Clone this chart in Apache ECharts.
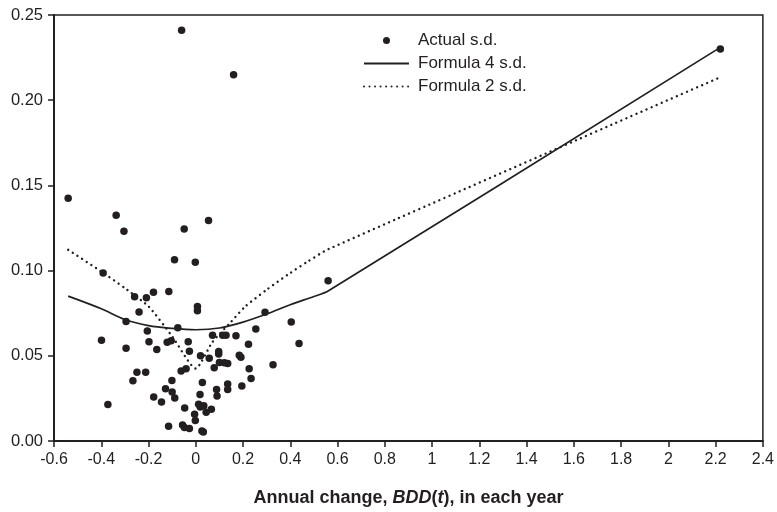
<!DOCTYPE html>
<html>
<head>
<meta charset="utf-8">
<script src="https://cdn.jsdelivr.net/npm/echarts@6/dist/echarts.min.js"></script>
<style>
  html, body { margin: 0; padding: 0; background: #fff; }
  #chart { width: 777px; height: 512px; }
</style>
</head>
<body>
<div id="chart"></div>
<script>
// Observed standard deviation of BDD(t) for each year, plotted against the annual change
const actualSD = [
  [-0.540, 0.1424], [-0.337, 0.1325], [-0.304, 0.1231], [-0.049, 0.1244], [0.054, 0.1294],
  [-0.090, 0.1063], [-0.002, 0.1049], [-0.392, 0.0986], [-0.060, 0.2410], [0.160, 0.2150],
  [2.220, 0.2300], [0.560, 0.0940], [-0.259, 0.0847], [-0.209, 0.0841], [-0.179, 0.0873],
  [-0.114, 0.0877], [-0.240, 0.0757], [0.007, 0.0790], [0.007, 0.0765], [-0.295, 0.0701],
  [-0.076, 0.0665], [-0.205, 0.0646], [-0.399, 0.0591], [-0.198, 0.0583], [-0.121, 0.0579],
  [-0.104, 0.0589], [-0.032, 0.0583], [0.071, 0.0621], [0.114, 0.0621], [0.128, 0.0621],
  [0.170, 0.0617], [0.293, 0.0755], [0.404, 0.0698], [0.437, 0.0572], [0.254, 0.0658],
  [0.223, 0.0568], [-0.295, 0.0545], [-0.165, 0.0537], [-0.027, 0.0526], [0.020, 0.0500],
  [0.057, 0.0485], [0.097, 0.0525], [0.097, 0.0510], [0.184, 0.0503], [0.191, 0.0491],
  [-0.249, 0.0403], [-0.212, 0.0403], [-0.266, 0.0354], [-0.062, 0.0411], [-0.041, 0.0424],
  [0.078, 0.0430], [0.100, 0.0460], [0.121, 0.0459], [0.135, 0.0455], [0.327, 0.0447],
  [0.226, 0.0424], [0.234, 0.0367], [0.195, 0.0323], [-0.101, 0.0355], [0.028, 0.0344],
  [0.135, 0.0334], [-0.128, 0.0306], [-0.100, 0.0288], [-0.089, 0.0252], [-0.178, 0.0258],
  [-0.145, 0.0229], [0.018, 0.0273], [0.088, 0.0302], [0.135, 0.0302], [0.090, 0.0264],
  [-0.372, 0.0214], [-0.047, 0.0194], [0.012, 0.0216], [0.019, 0.0200], [0.034, 0.0207],
  [0.066, 0.0186], [0.044, 0.0169], [-0.005, 0.0157], [-0.002, 0.0120], [-0.115, 0.0086],
  [-0.056, 0.0094], [-0.048, 0.0079], [-0.027, 0.0073], [0.026, 0.0059], [0.032, 0.0053]
];

// Standard deviation given by Formula 4
const formula4SD = [
  [-0.54, 0.0850], [-0.40, 0.0776], [-0.30, 0.0713], [-0.20, 0.0677], [-0.10, 0.0661],
  [0.00, 0.0653], [0.10, 0.0663], [0.20, 0.0698], [0.30, 0.0745], [0.40, 0.0800],
  [0.50, 0.0848], [0.56, 0.0880], [2.22, 0.2310]
];

// Standard deviation given by Formula 2
const formula2SD = [
  [-0.54, 0.1122], [-0.40, 0.0995], [-0.30, 0.0897], [-0.20, 0.0790], [-0.10, 0.0615],
  [0.00, 0.0425], [0.07, 0.0580], [0.14, 0.0685], [0.21, 0.0790], [0.30, 0.0888],
  [0.39, 0.0977], [0.47, 0.1050], [0.56, 0.1125], [2.22, 0.2135]
];

const seriesNames = ['Actual s.d.', 'Formula 4 s.d.', 'Formula 2 s.d.'];

const ink = '#231f20';
const font = 'Liberation Sans, Arial, Helvetica, sans-serif';

// line entries in the legend show only their stroke, no marker
const lineOnlyLegend = { itemStyle: { color: 'transparent', opacity: 0, borderWidth: 0 } };

const chart = echarts.init(document.getElementById('chart'), null, { renderer: 'canvas' });

chart.setOption({
  backgroundColor: '#ffffff',
  animation: false,
  grid: {
    left: 54, right: 12, top: 15, bottom: 61,
    show: true, borderColor: ink, borderWidth: 1.5, backgroundColor: 'transparent'
  },
  legend: {
    orient: 'vertical',
    left: 363, top: 32, padding: 0,
    itemWidth: 45, itemHeight: 7, itemGap: 6,
    textStyle: { fontFamily: font, fontSize: 17, color: ink, padding: [0, 0, 0, 4] },
    data: [
      { name: seriesNames[0], icon: 'circle' },
      Object.assign({ name: seriesNames[1] }, lineOnlyLegend),
      Object.assign({ name: seriesNames[2] }, lineOnlyLegend)
    ]
  },
  xAxis: {
    type: 'value',
    min: -0.6, max: 2.4, interval: 0.2,
    splitLine: { show: false },
    axisLine: { onZero: false, lineStyle: { color: ink, width: 2 } },
    axisTick: { show: true, length: 6, lineStyle: { color: ink, width: 1.5 } },
    axisLabel: {
      color: ink, fontFamily: font, fontSize: 16, margin: 11,
      formatter: v => String(Number(v.toFixed(1)))
    },
    name: '{b|Annual change, }{bi|BDD}{b|(}{bi|t}{b|), in each year}',
    nameLocation: 'middle',
    nameGap: 48,
    nameTextStyle: {
      rich: {
        b: { fontFamily: font, fontSize: 18, fontWeight: 'bold', color: ink },
        bi: { fontFamily: font, fontSize: 18, fontWeight: 'bold', fontStyle: 'italic', color: ink }
      }
    }
  },
  yAxis: {
    type: 'value',
    min: 0, max: 0.25, interval: 0.05,
    splitLine: { show: false },
    axisLine: { onZero: false, lineStyle: { color: ink, width: 2 } },
    axisTick: { show: true, length: 6, lineStyle: { color: ink, width: 1.5 } },
    axisLabel: {
      color: ink, fontFamily: font, fontSize: 16.5, margin: 11,
      formatter: v => v.toFixed(2)
    }
  },
  series: [
    {
      name: seriesNames[0],
      type: 'scatter',
      data: actualSD,
      symbol: 'circle',
      symbolSize: 7.5,
      itemStyle: { color: ink, opacity: 1 },
      z: 3
    },
    {
      name: seriesNames[1],
      type: 'line',
      data: formula4SD,
      symbol: 'none',
      smooth: 0.3,
      lineStyle: { color: ink, width: 1.7, type: 'solid' },
      itemStyle: { color: ink },
      z: 2
    },
    {
      name: seriesNames[2],
      type: 'line',
      data: formula2SD,
      symbol: 'none',
      smooth: 0.2,
      lineStyle: { color: ink, width: 2.4, type: [0.01, 5.5], cap: 'round' },
      itemStyle: { color: ink },
      z: 2
    }
  ]
});
</script>
</body>
</html>
